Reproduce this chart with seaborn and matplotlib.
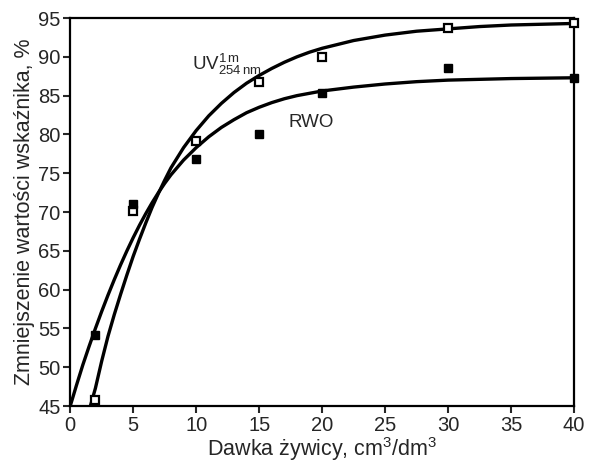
import matplotlib
matplotlib.use("Agg")
import matplotlib.pyplot as plt
import seaborn as sns
import pandas as pd

# measured points
dose = [2, 5, 10, 15, 20, 30, 40]
uv_points = [45.8, 70.2, 79.2, 86.7, 90.0, 93.7, 94.3]
rwo_points = [54.2, 71.1, 76.9, 80.1, 85.3, 88.6, 87.3]

# fitted curves
uv_curve_x = [1.6, 2, 2.5, 3, 3.5, 4, 4.5, 5, 5.5, 6, 6.5, 7, 7.5, 8, 9, 10, 11, 12, 13, 14,
              15, 16, 17, 18, 19, 20, 22.5, 25, 27.5, 30, 32.5, 35, 37.5, 40]
uv_curve_y = [45.0, 47.3, 50.8, 54.0, 56.8, 59.4, 61.9, 64.3, 66.5, 68.6, 70.6, 72.4, 74.1, 75.7,
              78.3, 80.5, 82.4, 84.0, 85.4, 86.6, 87.6, 88.5, 89.3, 90.0, 90.6, 91.1, 92.1, 92.8,
              93.3, 93.6, 93.9, 94.1, 94.2, 94.3]
rwo_curve_x = [0, 0.5, 1, 1.5, 2, 2.5, 3, 3.5, 4, 4.5, 5, 5.5, 6, 6.5, 7, 7.5, 8, 9, 10, 11, 12,
               13, 14, 15, 16, 17, 18, 19, 20, 22.5, 25, 27.5, 30, 32.5, 35, 37.5, 40]
rwo_curve_y = [45.0, 47.7, 50.3, 52.7, 55.0, 57.2, 59.3, 61.3, 63.2, 65.0, 66.7, 68.3, 69.8, 71.2,
               72.5, 73.7, 74.8, 76.7, 78.3, 79.7, 80.9, 81.9, 82.8, 83.5, 84.1, 84.6, 85.0, 85.3,
               85.6, 86.1, 86.5, 86.8, 87.0, 87.1, 87.2, 87.25, 87.3]

x_ticks = [0, 5, 10, 15, 20, 25, 30, 35, 40]
y_ticks = [45, 50, 55, 60, 65, 70, 75, 80, 85, 90, 95]

sns.set_style("ticks")
plt.rcParams["font.family"] = ["Liberation Sans", "DejaVu Sans"]
plt.rcParams["mathtext.default"] = "regular"

fig = plt.figure(figsize=(5.9, 4.62), dpi=100)
ax = fig.add_axes([0.119, 0.121, 0.854, 0.84])

sns.lineplot(x=uv_curve_x, y=uv_curve_y, ax=ax, color="black", linewidth=2.4, sort=False)
sns.lineplot(x=rwo_curve_x, y=rwo_curve_y, ax=ax, color="black", linewidth=2.4, sort=False)

pts = pd.DataFrame({"dose": dose, "uv": uv_points, "rwo": rwo_points})
ax.plot(pts["dose"], pts["uv"], linestyle="none", marker="s", markersize=6,
        markerfacecolor="white", markeredgecolor="black", markeredgewidth=1.6, zorder=5, clip_on=False)
ax.plot(pts["dose"], pts["rwo"], linestyle="none", marker="s", markersize=6,
        markerfacecolor="black", markeredgecolor="black", zorder=5, clip_on=False)

ax.text(12.4, 89.0, r"UV$^{1\,m}_{254\,nm}$", fontsize=13.5, ha="center", va="center")
ax.text(19.1, 81.5, "RWO", fontsize=13.5, ha="center", va="center")

ax.set_xlim(0, 40)
ax.set_ylim(45, 95)
ax.set_xticks(x_ticks)
ax.set_yticks(y_ticks)
ax.tick_params(direction="out", length=5, width=1.5, labelsize=14.5, pad=2)
for side in ["left", "bottom", "right", "top"]:
    ax.spines[side].set_linewidth(1.6)
    ax.spines[side].set_color("black")

ax.set_xlabel("Dawka żywicy, cm$^3$/dm$^3$", fontsize=15.5, labelpad=0)
ax.set_ylabel("Zmniejszenie wartości wskaźnika, %", fontsize=15.5, labelpad=2)

fig.savefig("out.png", dpi=100)
